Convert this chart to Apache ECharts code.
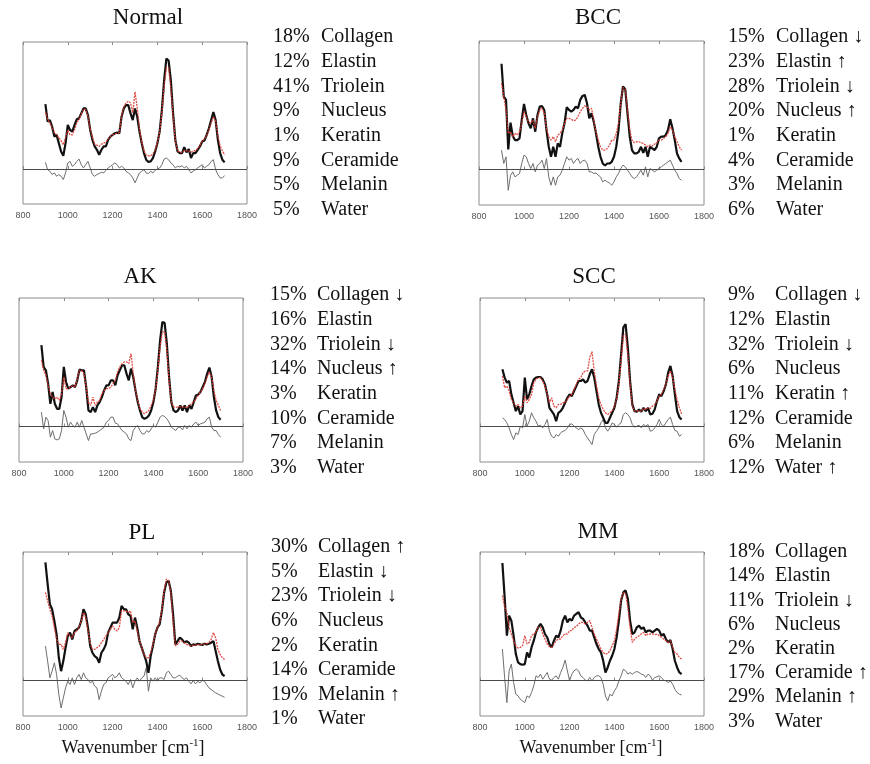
<!DOCTYPE html>
<html>
<head>
<meta charset="utf-8">
<script src="https://cdn.jsdelivr.net/npm/echarts/dist/echarts.min.js"></script>
<style>
  html, body { margin: 0; padding: 0; background: #fff; }
  #chart { width: 870px; height: 764px; }
</style>
</head>
<body>
<div id="chart"></div>
<script>
// Raman shift sampling grid (cm-1)
const wavenumbers = [
  900, 910, 920, 930, 940, 950, 960, 970, 980, 990,
  1000, 1010, 1020, 1030, 1040, 1050, 1060, 1070, 1080, 1090,
  1100, 1110, 1120, 1130, 1140, 1150, 1160, 1170, 1180, 1190,
  1200, 1210, 1220, 1230, 1240, 1250, 1260, 1270, 1280, 1290,
  1300, 1310, 1320, 1330, 1340, 1350, 1360, 1370, 1380, 1390,
  1400, 1410, 1420, 1430, 1440, 1450, 1460, 1470, 1480, 1490,
  1500, 1510, 1520, 1530, 1540, 1550, 1560, 1570, 1580, 1590,
  1600, 1610, 1620, 1630, 1640, 1650, 1660, 1670, 1680, 1690,
  1700
];
const xTicks = [800, 1000, 1200, 1400, 1600, 1800];

const components = ['Collagen', 'Elastin', 'Triolein', 'Nucleus', 'Keratin', 'Ceramide', 'Melanin', 'Water'];

// Normal
const normalMeasured = [196,143,148,128,98,103,78,53,40,78, 133,118,113,133,150,153,168,183,183,163, 118,88,68,58,43,58,68,68,88,98, 103,108,110,108,158,183,193,193,168,148, 183,158,113,78,48,28,21,23,33,53, 78,113,178,268,334,328,268,168,88,53, 48,48,66,50,60,33,48,48,58,68, 83,86,103,123,148,172,148,88,48,28, 20];
const normalFit = [173,150,140,125,110,103,95,85,73,95, 118,103,103,118,140,150,165,180,180,160, 120,95,75,72,68,75,78,82,90,98, 103,106,108,110,160,188,200,205,200,170, 233,185,120,80,55,42,40,40,45,58, 80,110,170,250,308,305,245,160,85,55, 50,50,55,55,55,50,55,55,62,72, 85,90,100,118,140,158,145,100,70,55, 43];
const normalResidual = [20,-2,-7,-17,-12,-22,-17,-22,-32,-12, 18,23,8,13,23,30,13,3,13,23, 3,-17,-22,-17,-14,-10,-12,-4,3,8, 13,18,13,3,8,3,-7,-12,-17,-27, -42,-27,-12,-7,-2,-12,-14,-7,-12,-4, 0,3,13,30,33,28,18,13,3,8, 6,10,3,8,-2,-12,-7,-2,3,8, 13,3,8,13,23,28,-2,-17,-27,-27, -20];
const normalShares = ['18%', '12%', '41%', '9%', '1%', '9%', '5%', '5%'];
const normalTrends = ['', '', '', '', '', '', '', ''];

// BCC
const bccMeasured = [316,218,208,60,140,100,88,88,93,148, 196,163,138,123,153,113,163,188,190,178, 118,68,38,68,38,78,68,108,138,186, 178,173,178,188,183,208,220,223,198,153, 168,143,108,68,38,18,12,18,18,23, 38,68,118,198,248,240,168,98,58,48, 48,53,68,50,68,38,68,63,58,68, 93,98,98,103,118,150,123,88,48,33, 23];
const bccFit = [258,218,178,108,113,98,108,103,113,138, 173,158,143,138,148,123,158,178,183,168, 123,98,88,98,83,103,108,118,138,153, 153,150,146,148,158,173,183,190,188,178, 183,148,113,88,68,58,58,63,73,88, 88,108,138,198,245,240,178,118,88,80, 83,83,80,78,73,68,73,70,76,80, 88,88,93,98,108,128,118,98,83,68, 58];
const bccResidual = [58,18,38,-62,-18,-7,-22,-17,-12,18, 43,38,18,3,18,-7,13,18,28,3, 33,-22,-47,-22,-47,-22,-17,-2,18,38, 28,33,18,28,33,18,26,28,18,-7, -7,-12,-10,-17,-22,-37,-32,-37,-40,-47, -37,-22,-12,3,13,8,-2,-12,-22,-27, -22,-12,-2,-17,8,-22,3,-2,-7,-2, 3,8,13,18,23,28,13,-2,-12,-27, -32];
const bccShares = ['15%', '23%', '28%', '20%', '1%', '4%', '3%', '6%'];
const bccTrends = ['↓', '↑', '↓', '↑', '', '', '', ''];

// AK
const akMeasured = [243,178,168,128,68,103,68,53,53,88, 178,133,113,118,123,118,138,170,168,168, 118,48,43,58,43,63,73,88,108,123, 123,138,138,123,153,168,183,183,158,138, 173,148,108,73,48,28,23,26,33,48, 73,113,178,258,312,310,248,148,73,48, 43,48,63,48,63,43,63,53,73,93, 96,103,118,133,158,176,148,88,48,28, 20];
const akFit = [198,168,153,123,98,88,83,88,78,98, 148,113,113,118,123,118,143,168,168,158, 118,73,63,88,63,73,78,98,108,113, 113,118,128,138,163,178,188,193,193,188, 218,158,108,78,53,43,38,43,48,63, 78,113,168,238,283,283,228,138,73,58, 58,58,60,58,58,56,63,68,73,83, 93,103,113,128,148,163,148,108,78,63, 48];
const akResidual = [43,-7,28,18,-32,-12,-37,-40,-37,-12, 48,28,-2,13,3,-2,13,-2,18,-2, -22,-42,-22,-22,-20,-17,-12,-7,-2,13, 18,28,28,10,8,-2,-12,-17,-22,-37, -42,-12,-2,3,-12,-22,-22,-12,-17,-7, 3,-2,13,28,33,30,23,13,-2,-7, -12,-2,-2,-10,3,-7,3,-2,8,13, 3,8,10,13,23,28,-2,-12,-12,-24, -32];
const akShares = ['15%', '16%', '32%', '14%', '3%', '10%', '7%', '3%'];
const akTrends = ['↓', '', '↓', '↑', '', '', '', ''];

// SCC
const sccMeasured = [171,146,131,136,96,71,46,61,36,46, 146,81,96,121,141,146,148,148,141,126, 96,56,46,36,16,41,46,56,71,86, 96,91,106,121,136,136,141,131,136,156, 171,146,106,66,41,26,11,11,26,41, 56,86,136,216,296,306,236,136,66,46, 44,51,44,56,46,56,36,38,51,76, 96,91,106,126,161,181,151,96,46,28, 21];
const sccFit = [151,116,121,106,81,71,61,66,56,61, 91,71,81,96,131,141,146,146,136,121, 96,71,86,61,56,66,66,71,71,81, 91,96,111,126,141,146,161,166,166,206, 224,166,121,86,66,51,41,36,41,46, 61,81,126,196,271,276,211,126,61,46, 46,48,46,54,51,56,54,61,66,76, 91,96,111,126,151,166,146,111,81,56, 38];
const sccResidual = [26,21,11,-4,-24,-39,-19,-24,1,-4, 36,1,16,41,26,16,1,4,-4,6, 21,-14,-29,-34,-24,-29,-19,-14,-12,-4, 6,8,1,-4,-9,-4,-9,-24,-34,-44, -54,-24,-14,-4,11,21,-4,-14,-4,11, 6,-2,6,11,36,41,36,26,6,-2, 1,4,-4,6,1,6,-14,-12,-4,6, 21,6,1,11,21,28,6,-12,-14,-29, -24];
const sccShares = ['9%', '12%', '32%', '6%', '11%', '12%', '6%', '12%'];
const sccTrends = ['↓', '', '↓', '', '↑', '', '', '↑'];

// PL
const plMeasured = [353,288,228,213,178,138,68,28,58,98, 133,143,123,148,153,158,178,213,198,158, 103,83,73,68,53,83,93,108,143,158, 173,173,173,188,223,213,213,198,193,153, 188,158,118,98,78,58,23,73,103,138, 158,168,208,263,293,298,268,198,108,118, 128,123,113,118,113,103,108,106,110,108, 106,110,108,110,113,118,88,58,33,18, 13];
const plFit = [263,238,213,193,158,123,108,108,93,113, 143,133,128,143,148,158,178,203,188,148, 113,93,93,98,103,113,123,133,143,153, 163,153,148,158,208,208,208,203,208,173, 178,148,118,98,78,68,68,83,108,138, 158,173,213,268,303,298,263,178,103,108, 118,118,113,108,106,103,106,106,108,106, 108,108,110,113,123,143,128,93,78,68, 63];
const plResidual = [103,58,8,28,53,18,-42,-82,-52,-22, -2,-12,8,-12,8,18,3,23,8,3, -7,-2,-17,-22,-57,-32,-12,-7,8,13, 18,8,13,23,8,3,-2,-12,3,-22, -2,8,-2,8,13,38,-32,8,-2,8, -2,8,8,3,23,28,18,8,8,13, 16,8,3,8,-2,-10,0,-10,-2,-7, 0,-2,-12,-22,-27,-32,-37,-40,-44,-47, -50];
const plShares = ['30%', '5%', '23%', '6%', '2%', '14%', '19%', '1%'];
const plTrends = ['↑', '↓', '↓', '', '', '', '↑', ''];

// MM
const mmMeasured = [351,249,134,194,179,134,79,54,49,47, 49,84,69,99,119,144,159,169,159,139, 129,109,99,119,134,129,149,179,194,174, 184,179,194,199,204,189,184,174,164,149, 149,129,109,94,84,59,24,39,59,74, 94,129,179,239,264,269,244,179,139,144, 159,164,154,159,144,149,149,144,149,154, 149,134,139,124,114,121,94,59,39,24, 19];
const mmFit = [254,219,204,159,139,119,104,97,99,104, 134,109,114,134,139,144,159,159,139,124, 109,101,99,109,119,124,124,134,139,139, 149,149,159,161,169,174,174,169,174,179, 159,139,124,109,94,84,79,81,89,104, 119,154,199,244,264,259,219,159,114,124, 129,134,139,144,134,139,139,139,137,139, 134,129,124,119,114,119,99,84,79,69, 64];
const mmResidual = [94,9,-66,29,49,-6,-41,-46,-56,-61, -66,-46,-51,-36,-16,14,9,19,4,14, 24,4,1,9,14,4,24,39,61,29, -1,19,29,34,29,14,9,1,-1,9, -1,9,14,14,9,-11,-46,-61,-41,-46, -31,-21,-1,14,34,29,19,24,19,24, 27,24,19,17,9,19,14,1,9,11, 14,9,1,-1,-6,-1,-11,-26,-36,-41, -43];
const mmShares = ['18%', '14%', '11%', '6%', '2%', '17%', '29%', '3%'];
const mmTrends = ['', '', '↓', '', '', '↑', '↑', ''];

// Panel layout (pixel positions of each plot box and its text blocks)
const panels = [
  { title: 'Normal', measured: normalMeasured, fit: normalFit, residual: normalResidual, shares: normalShares, trends: normalTrends,
    box: { left: 23, top: 42, width: 224, height: 162 }, titleX: 148, titleY: 18, pctX: 273, nameX: 321, listY: 37, step: 24.7, xLabel: false },
  { title: 'BCC', measured: bccMeasured, fit: bccFit, residual: bccResidual, shares: bccShares, trends: bccTrends,
    box: { left: 479, top: 41, width: 225, height: 164 }, titleX: 598, titleY: 18, pctX: 728, nameX: 776, listY: 37, step: 24.7, xLabel: false },
  { title: 'AK', measured: akMeasured, fit: akFit, residual: akResidual, shares: akShares, trends: akTrends,
    box: { left: 19, top: 298, width: 224, height: 164 }, titleX: 140, titleY: 277, pctX: 270, nameX: 317, listY: 295, step: 24.7, xLabel: false },
  { title: 'SCC', measured: sccMeasured, fit: sccFit, residual: sccResidual, shares: sccShares, trends: sccTrends,
    box: { left: 480, top: 298, width: 224, height: 164 }, titleX: 594, titleY: 277, pctX: 728, nameX: 775, listY: 295, step: 24.7, xLabel: false },
  { title: 'PL', measured: plMeasured, fit: plFit, residual: plResidual, shares: plShares, trends: plTrends,
    box: { left: 23, top: 552, width: 224, height: 164 }, titleX: 142, titleY: 533, pctX: 271, nameX: 318, listY: 547, step: 24.6, xLabel: true, xLabelX: 133 },
  { title: 'MM', measured: mmMeasured, fit: mmFit, residual: mmResidual, shares: mmShares, trends: mmTrends,
    box: { left: 480, top: 552, width: 224, height: 164 }, titleX: 598, titleY: 532, pctX: 728, nameX: 775, listY: 552, step: 24.2, xLabel: true, xLabelX: 591 }
];

const serif = '"Liberation Serif", "Times New Roman", serif';
const sans = '"Liberation Sans", Arial, sans-serif';
const pairs = (vals) => wavenumbers.map((w, i) => [w, vals[i]]);

const grids = [], xAxes = [], yAxes = [], series = [], graphics = [];

panels.forEach((p, i) => {
  grids.push(Object.assign({ show: true, borderColor: '#8c8c8c', borderWidth: 1, containLabel: false }, p.box));

  const tickStyle = { show: true, inside: true, length: 3, lineStyle: { color: '#8c8c8c', width: 1 } };
  xAxes.push({
    type: 'value', gridIndex: i, min: xTicks[0], max: xTicks[xTicks.length - 1], interval: 200,
    axisLine: { show: false }, axisTick: tickStyle, splitLine: { show: false },
    axisLabel: { color: '#555', fontSize: 9, fontFamily: sans, margin: 7, formatter: (v) => String(v) }
  });
  xAxes.push({
    type: 'value', gridIndex: i, position: 'top', min: xTicks[0], max: xTicks[xTicks.length - 1], interval: 200,
    axisLine: { show: false }, axisTick: tickStyle, splitLine: { show: false }, axisLabel: { show: false }
  });
  yAxes.push({
    type: 'value', gridIndex: i, min: -106, max: 384,
    axisLine: { show: false }, axisTick: { show: false }, splitLine: { show: false }, axisLabel: { show: false }
  });

  const common = { type: 'line', xAxisIndex: i * 2, yAxisIndex: i, showSymbol: false, symbol: 'none', silent: true, animation: false };
  series.push(Object.assign({}, common, {
    name: p.title + ' residual', data: pairs(p.residual), z: 2,
    lineStyle: { color: '#6e6e6e', width: 1 },
    markLine: { silent: true, symbol: 'none', label: { show: false }, animation: false,
      lineStyle: { color: '#4a4a4a', width: 1, type: 'solid' }, data: [{ yAxis: 0 }] }
  }));
  series.push(Object.assign({}, common, {
    name: p.title + ' measured', data: pairs(p.measured), z: 3,
    lineStyle: { color: '#111', width: 2.2 }
  }));
  series.push(Object.assign({}, common, {
    name: p.title + ' fit', data: pairs(p.fit), z: 4,
    lineStyle: { color: '#dc3a32', width: 1.3, type: [2, 1], opacity: 0.9 }
  }));

  graphics.push({
    type: 'text', x: p.titleX, y: p.titleY,
    style: { text: p.title, font: '23px ' + serif, fill: '#111', textAlign: 'center', textVerticalAlign: 'middle' }
  });
  components.forEach((c, k) => {
    const y = p.listY + k * p.step;
    graphics.push({ type: 'text', x: p.pctX, y: y,
      style: { text: p.shares[k], font: '20px ' + serif, fill: '#111', textAlign: 'left', textVerticalAlign: 'middle' } });
    graphics.push({ type: 'text', x: p.nameX, y: y,
      style: { text: c + (p.trends[k] ? ' ' + p.trends[k] : ''), font: '20px ' + serif, fill: '#111', textAlign: 'left', textVerticalAlign: 'middle' } });
  });
  if (p.xLabel) {
    graphics.push({
      type: 'text', x: p.xLabelX, y: 748,
      style: {
        text: '{a|Wavenumber [cm}{s|-1}{a|]}',
        rich: {
          a: { fontSize: 18, fontFamily: serif, fill: '#111' },
          s: { fontSize: 11, fontFamily: serif, fill: '#111', padding: [0, 0, 9, 0] }
        },
        textAlign: 'center', textVerticalAlign: 'middle'
      }
    });
  }
});

const chart = echarts.init(document.getElementById('chart'), null, { renderer: 'canvas' });
chart.setOption({
  animation: false,
  backgroundColor: '#fff',
  grid: grids,
  xAxis: xAxes,
  yAxis: yAxes,
  series: series,
  graphic: graphics
});
</script>
</body>
</html>
